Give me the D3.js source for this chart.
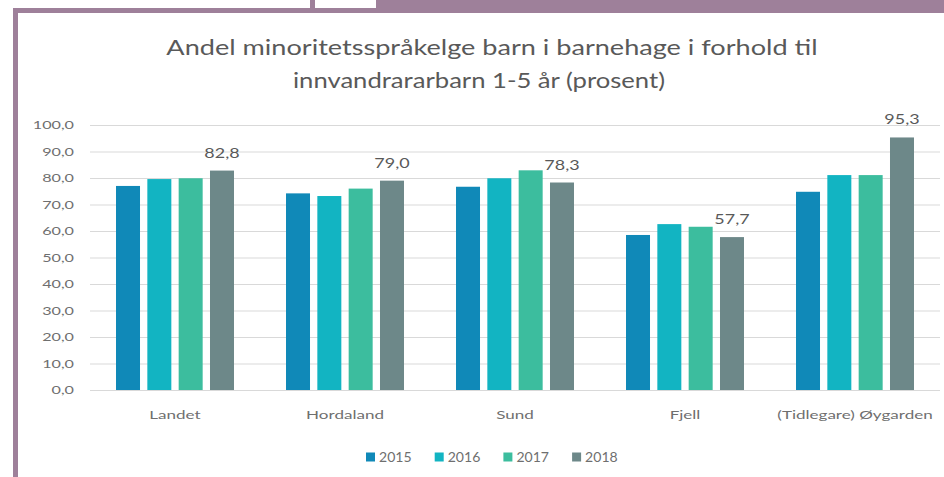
<!DOCTYPE html>
<html>
<head>
<meta charset="utf-8">
<script src="https://cdn.jsdelivr.net/npm/d3@7"></script>
<style>
  body { margin: 0; background: #fff; }
  svg { display: block; font-family: Lato, "Open Sans", sans-serif; }
</style>
</head>
<body>
<svg id="chart" width="944" height="477"></svg>
<script>
(function () {
	'use strict';

	var categories = ['Landet', 'Hordaland', 'Sund', 'Fjell', '(Tidlegare) Øygarden'];
	var years = ['2015', '2016', '2017', '2018'];
	var values2015 = [77.0, 74.2, 76.7, 58.5, 74.8];
	var values2016 = [79.6, 73.2, 79.9, 62.6, 81.1];
	var values2017 = [79.9, 76.0, 82.9, 61.6, 81.1];
	var values2018 = [82.8, 79.0, 78.3, 57.7, 95.3];
	var yTicks = [0, 10, 20, 30, 40, 50, 60, 70, 80, 90, 100];
	var colors = ['#1089b8', '#12b4c2', '#3cbd9e', '#6d8889'];

	var series = [values2015, values2016, values2017, values2018];
	var labelledYear = '2018';

	var svg = d3.select('#chart');
	var purple = '#9e809a';
	var textColor = '#595959';
	var lightText = '#6f6f6f';

	// The source picture is a horizontally stretched screenshot, so text gets widened
	function stretch(selection, factor) {
		selection.each(function () {
			var len = this.getComputedTextLength();
			d3.select(this)
				.attr('textLength', len * factor)
				.attr('lengthAdjust', 'spacingAndGlyphs');
		});
	}

	// Frame around the chart
	svg.append('rect').attr('x', 13).attr('y', 8).attr('width', 5).attr('height', 469).attr('fill', purple);
	svg.append('rect').attr('x', 13).attr('y', 8).attr('width', 931).attr('height', 5).attr('fill', purple);
	svg.append('rect').attr('x', 376).attr('y', 0).attr('width', 568).attr('height', 13).attr('fill', purple);
	svg.append('rect').attr('x', 310).attr('y', 0).attr('width', 5).attr('height', 9).attr('fill', purple);

	var comma = function (v) {
		return d3.format('.1f')(v).replace('.', ',');
	};

	var x0 = d3.scaleBand()
		.domain(categories)
		.range([90, 940])
		.paddingInner(0.306)
		.paddingOuter(0.153);

	var x1 = d3.scaleBand()
		.domain(years)
		.range([0, x0.bandwidth()])
		.paddingInner(0.234);

	var y = d3.scaleLinear()
		.domain([0, 100])
		.range([390, 125]);

	// Title
	var titleLines = svg.append('g')
		.attr('fill', textColor)
		.style('font-size', '21px')
		.attr('text-anchor', 'middle');
	titleLines.append('text').attr('x', 492).attr('y', 55)
		.text('Andel minoritetsspråkelge barn i barnehage i forhold til')
		.call(stretch, 1.29);
	titleLines.append('text').attr('x', 479).attr('y', 88)
		.text('innvandrararbarn 1-5 år (prosent)')
		.call(stretch, 1.22);

	// Gridlines and y labels
	var yAxis = d3.axisLeft(y)
		.tickValues(yTicks)
		.tickSize(-850)
		.tickPadding(16)
		.tickFormat(comma);

	var yG = svg.append('g')
		.attr('transform', 'translate(90,0)')
		.call(yAxis);
	yG.select('.domain').remove();
	yG.selectAll('.tick line').attr('stroke', '#d9d9d9').attr('stroke-width', 1);
	yG.selectAll('.tick text')
		.attr('fill', lightText)
		.style('font-size', '12px')
		.style('font-family', 'Lato, sans-serif')
		.call(stretch, 1.35);

	// Bars
	var rows = categories.map(function (c, i) {
		return years.map(function (yr, j) {
			return { category: c, year: yr, value: series[j][i], color: colors[j] };
		});
	});

	var groups = svg.append('g')
		.selectAll('g')
		.data(rows)
		.enter()
		.append('g')
		.attr('transform', function (d) { return 'translate(' + x0(d[0].category) + ',0)'; });

	groups.selectAll('rect')
		.data(function (d) { return d; })
		.enter()
		.append('rect')
		.attr('x', function (d) { return x1(d.year); })
		.attr('y', function (d) { return y(d.value); })
		.attr('width', x1.bandwidth())
		.attr('height', function (d) { return y(0) - y(d.value); })
		.attr('fill', function (d) { return d.color; });

	groups.selectAll('text.value')
		.data(function (d) { return d.filter(function (e) { return e.year === labelledYear; }); })
		.enter()
		.append('text')
		.classed('value', true)
		.attr('x', function (d) { return x1(d.year) + x1.bandwidth() / 2; })
		.attr('y', function (d) { return y(d.value) - 13; })
		.attr('text-anchor', 'middle')
		.attr('fill', textColor)
		.style('font-size', '14px')
		.text(function (d) { return comma(d.value); })
		.call(stretch, 1.28);

	// Category axis
	var xAxis = d3.axisBottom(x0).tickSize(0).tickPadding(20);
	var xG = svg.append('g')
		.attr('transform', 'translate(0,' + y(0) + ')')
		.call(xAxis);
	xG.select('.domain').remove();
	xG.selectAll('.tick text')
		.attr('fill', lightText)
		.style('font-size', '12px')
		.style('font-family', 'Lato, sans-serif')
		.call(stretch, 1.42);

	// Legend
	var legend = svg.append('g')
		.attr('transform', 'translate(366,457)');

	var item = legend.selectAll('g')
		.data(years)
		.enter()
		.append('g')
		.attr('transform', function (d, i) { return 'translate(' + (i * 68.7) + ',0)'; });

	item.append('rect')
		.attr('x', 0)
		.attr('y', -4.5)
		.attr('width', 9)
		.attr('height', 9)
		.attr('fill', function (d, i) { return colors[i]; });

	item.append('text')
		.attr('x', 13)
		.attr('y', 5)
		.attr('fill', lightText)
		.style('font-size', '13px')
		.text(function (d) { return d; })
		.call(stretch, 1.08);
}());
</script>
</body>
</html>
